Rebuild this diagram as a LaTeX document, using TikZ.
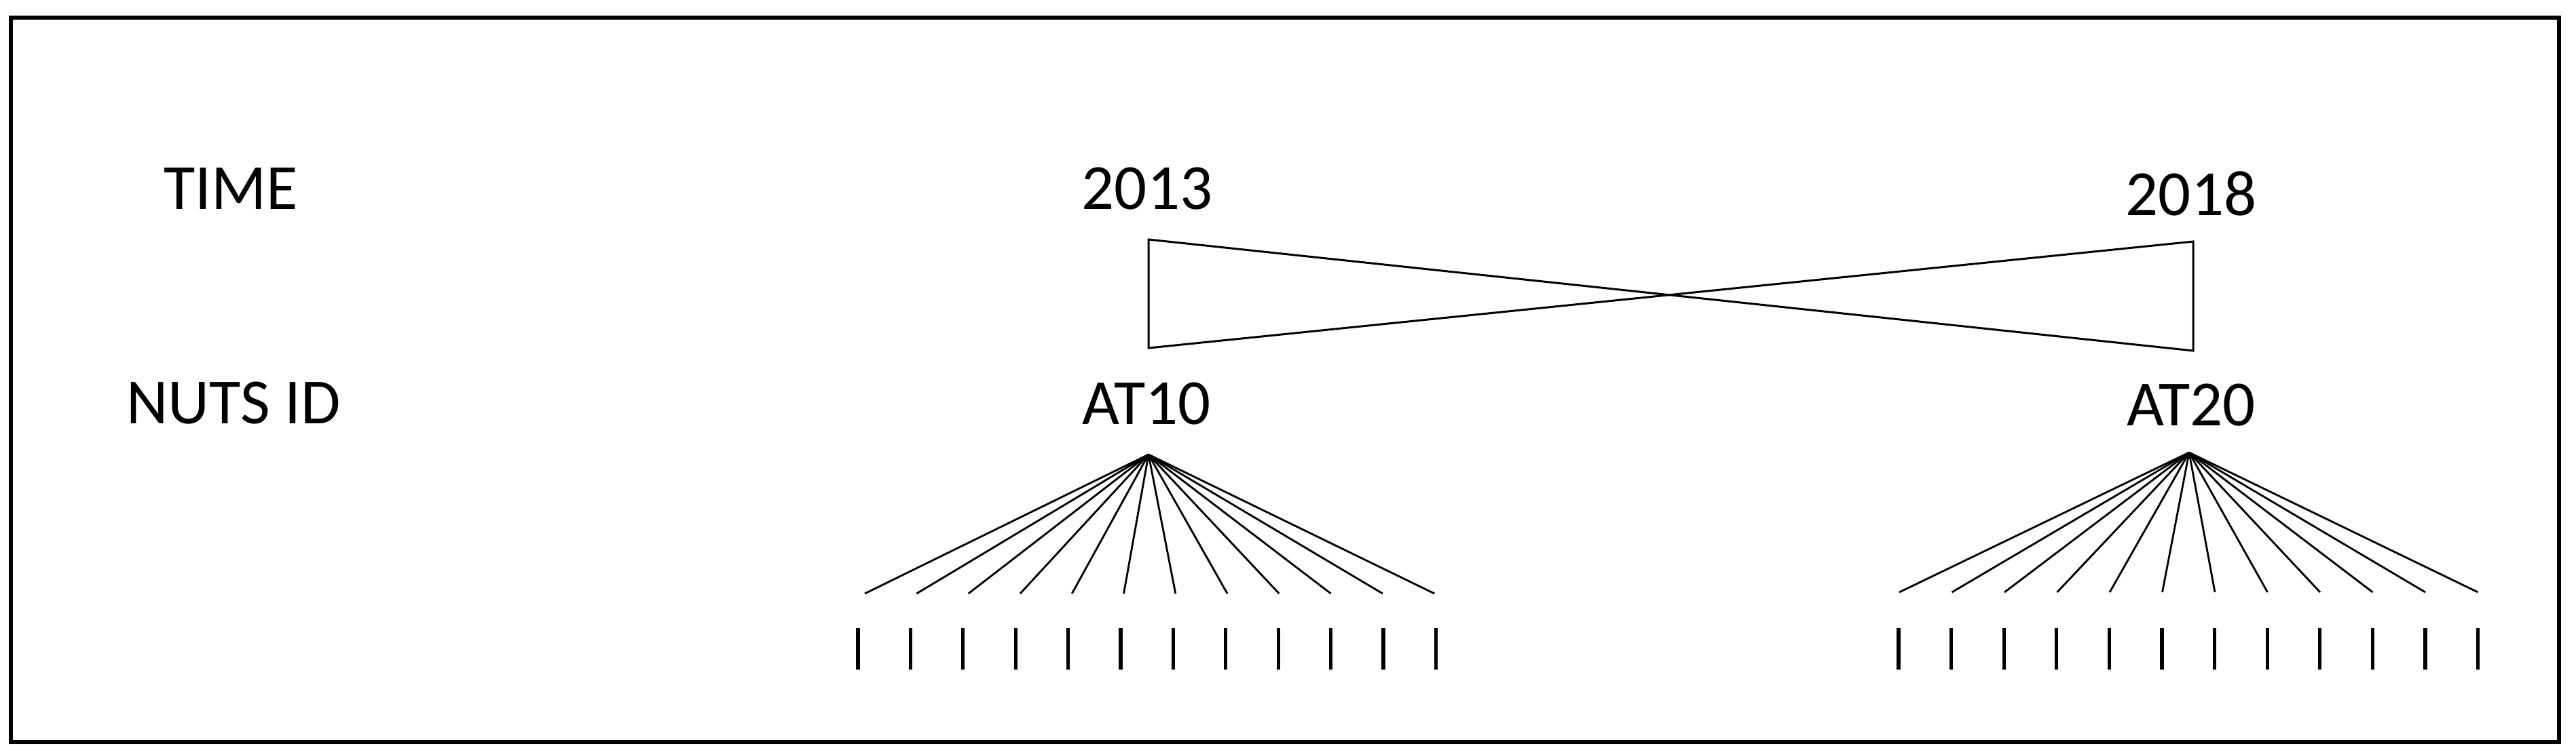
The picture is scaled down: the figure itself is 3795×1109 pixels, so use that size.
\documentclass[tikz,border=0pt]{standalone}
\usepackage{fontspec}
\setmainfont{Carlito}
\usepackage{tikz}

\begin{document}
\begin{tikzpicture}[x=0.1mm, y=-0.1mm, font=\fontsize{27}{32}\selectfont,
		lbl/.style={inner sep=0pt},
		fan/.style={line width=0.8pt},
		tick/.style={line width=1.5pt}]
	\useasboundingbox (0,0) rectangle (3795,1109);
	% Frame
	\draw[line width=1.8pt] (16,26) rectangle (3770,1094);
	
	% Nodes
	\node[lbl] (time) at (340,278) {TIME};
	\node[lbl] (nuts) at (344,594) {NUTS ID};
	\node[lbl] (y2013) at (1690,278) {2013};
	\node[lbl] (y2018) at (3228,285) {2018};
	\node[lbl] (at10) at (1689,595) {AT10};
	\node[lbl] (at20) at (3228,597) {AT20};
	
	% Bow tie
	\coordinate (tl) at (1692,353);
	\coordinate (bl) at (1692,513);
	\coordinate (tr) at (3231,356);
	\coordinate (br) at (3231,517);
	\draw[line width=0.85pt, line join=miter] (tl) -- (br) -- (tr) -- (bl) -- cycle;
	
	% Sub-regions
	\coordinate (apex10) at (1692,670);
	\coordinate (apex20) at (3225,667);
	\foreach \i in {0,...,11} {
		\coordinate (e10-\i) at ({1274+\i*76.3},875);
		\coordinate (e20-\i) at ({2798+\i*77.5},873);
		\draw[fan] (apex10) -- (e10-\i);
		\draw[fan] (apex20) -- (e20-\i);
		\draw[tick] ({1264+\i*77.4},926) -- ++(0,61);
		\draw[tick] ({2797+\i*77.6},926) -- ++(0,61);
	}
\end{tikzpicture}
\end{document}
